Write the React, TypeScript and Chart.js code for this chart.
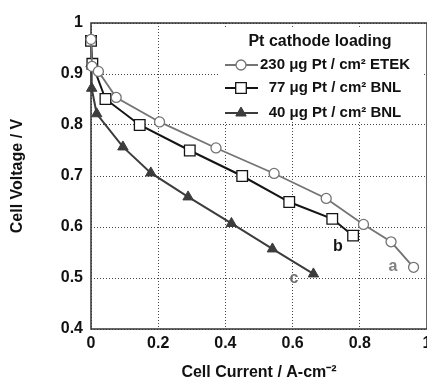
import React, { useEffect, useRef } from "react";
import { Chart, registerables } from "chart.js";

Chart.register(...registerables);

const currentA = [0, 0.003, 0.022, 0.075, 0.204, 0.372, 0.545, 0.70, 0.811, 0.893, 0.96];
const voltageA = [0.968, 0.915, 0.905, 0.854, 0.806, 0.755, 0.705, 0.656, 0.605, 0.571, 0.521];

const currentB = [0, 0.004, 0.043, 0.145, 0.294, 0.45, 0.59, 0.718, 0.78];
const voltageB = [0.965, 0.92, 0.851, 0.80, 0.75, 0.70, 0.649, 0.616, 0.583];

const currentC = [0, 0.002, 0.017, 0.095, 0.178, 0.289, 0.418, 0.54, 0.662];
const voltageC = [0.92, 0.872, 0.822, 0.757, 0.706, 0.659, 0.607, 0.557, 0.508];

const seriesLabels = ["230 \u03bcg Pt / cm\u00b2 ETEK", "77 \u03bcg Pt / cm\u00b2 BNL", "40 \u03bcg Pt / cm\u00b2 BNL"];
const legendTitle = "Pt cathode loading";
const curveTags = ["a", "b", "c"];
const tagX = [0.899, 0.735, 0.604];
const tagY = [0.522, 0.561, 0.498];

const xTitle = "Cell Current / A-cm\u207b\u00b2";
const yTitle = "Cell Voltage / V";

const FONT = '"Liberation Sans", Arial, Helvetica, sans-serif';
const colA = "#747474";
const colB = "#141414";
const colC = "#3c3c3c";
const tagColors = ["#808080", "#141414", "#707070"];

const toPts = (xs: number[], ys: number[]) => xs.map((x, i) => ({ x, y: ys[i] }));

const overlayPlugin = {
  id: "overlay",
  beforeDatasetsDraw(chart: any) {
    const { ctx, chartArea } = chart;
    ctx.save();
    ctx.strokeStyle = "#333";
    ctx.lineWidth = 1.5;
    ctx.strokeRect(chartArea.left, chartArea.top, chartArea.right - chartArea.left, chartArea.bottom - chartArea.top);
    ctx.restore();
  },
  afterDatasetsDraw(chart: any) {
    const { ctx, chartArea, scales } = chart;
    const L = chartArea.left;
    const T = chartArea.top;
    ctx.save();
    // legend box
    ctx.fillStyle = "#ffffff";
    ctx.fillRect(L + 127, T + 4, 206, 95);
    ctx.fillStyle = "#111";
    ctx.font = "bold 16px " + FONT;
    ctx.textAlign = "center";
    ctx.textBaseline = "middle";
    ctx.fillText(legendTitle, L + 229, T + 19);
    const rows = [T + 42, T + 65, T + 90];
    const ds = chart.data.datasets;
    rows.forEach((y, i) => {
      const d = ds[i];
      ctx.strokeStyle = d.borderColor;
      ctx.lineWidth = d.borderWidth;
      ctx.beginPath();
      ctx.moveTo(L + 134, y);
      ctx.lineTo(L + 167, y);
      ctx.stroke();
      ctx.fillStyle = d.pointBackgroundColor;
      ctx.strokeStyle = d.pointBorderColor;
      ctx.lineWidth = d.pointBorderWidth;
      ctx.beginPath();
      if (d.pointStyle === "circle") {
        ctx.arc(L + 150, y, d.pointRadius, 0, Math.PI * 2);
        ctx.fill();
        ctx.stroke();
      } else if (d.pointStyle === "rect") {
        const s = d.pointRadius * Math.SQRT1_2;
        ctx.rect(L + 150 - s, y - s, 2 * s, 2 * s);
        ctx.fill();
        ctx.stroke();
      } else {
        const r = d.pointRadius;
        ctx.moveTo(L + 150, y - r);
        ctx.lineTo(L + 150 + r * 0.87, y + r * 0.5);
        ctx.lineTo(L + 150 - r * 0.87, y + r * 0.5);
        ctx.closePath();
        ctx.fill();
        ctx.stroke();
      }
      ctx.fillStyle = "#111";
      ctx.font = "bold 15px " + FONT;
      ctx.textAlign = "center";
      ctx.fillText(seriesLabels[i], L + 244, y);
    });
    // curve tags
    ctx.font = "bold 16px " + FONT;
    curveTags.forEach((t, i) => {
      ctx.fillStyle = tagColors[i];
      ctx.fillText(t, scales.x.getPixelForValue(tagX[i]), scales.y.getPixelForValue(tagY[i]));
    });
    ctx.restore();
  },
};

export default function App() {
  const ref = useRef<HTMLCanvasElement | null>(null);
  useEffect(() => {
    if (!ref.current) return;
    Chart.defaults.font.family = FONT;
    const chart = new Chart(ref.current, {
      type: "line",
      data: {
        datasets: [
          {
            label: seriesLabels[0],
            data: toPts(currentA, voltageA),
            borderColor: colA,
            borderWidth: 1.8,
            pointStyle: "circle",
            pointRadius: 5,
            pointBackgroundColor: "#ffffff",
            pointBorderColor: colA,
            pointBorderWidth: 1.3,
            tension: 0,
            clip: false,
          },
          {
            label: seriesLabels[1],
            data: toPts(currentB, voltageB),
            borderColor: colB,
            borderWidth: 2,
            pointStyle: "rect",
            pointRadius: 7.5,
            pointBackgroundColor: "#ffffff",
            pointBorderColor: colB,
            pointBorderWidth: 1.3,
            tension: 0,
            clip: false,
          },
          {
            label: seriesLabels[2],
            data: toPts(currentC, voltageC),
            borderColor: colC,
            borderWidth: 2,
            pointStyle: "triangle",
            pointRadius: 6,
            pointBackgroundColor: colC,
            pointBorderColor: colC,
            pointBorderWidth: 1,
            tension: 0,
            clip: false,
          },
        ],
      },
      options: {
        animation: false,
        responsive: false,
        layout: { padding: { left: 0, top: 23, right: 33, bottom: 0 } },
        plugins: { legend: { display: false }, tooltip: { enabled: false } },
        scales: {
          x: {
            type: "linear",
            min: 0,
            max: 1,
            afterFit: (s: any) => {
              s.height = 53;
            },
            ticks: {
              stepSize: 0.2,
              color: "#111",
              padding: 5,
              font: { size: 16, weight: "bold" },
              callback: (v: any) => String(Number(Number(v).toFixed(1))),
            },
            grid: { color: "#444", lineWidth: 1, drawTicks: false },
            border: { display: false, dash: [1, 2] },
            title: {
              display: true,
              text: xTitle,
              color: "#111",
              font: { size: 16, weight: "bold" },
              padding: { top: 0, bottom: 0 },
            },
          },
          y: {
            type: "linear",
            min: 0.4,
            max: 1,
            afterFit: (s: any) => {
              s.width = 91;
            },
            ticks: {
              stepSize: 0.1,
              color: "#111",
              padding: 8,
              font: { size: 16, weight: "bold" },
              callback: (v: any) => String(Number(Number(v).toFixed(1))),
            },
            grid: { color: "#444", lineWidth: 1, drawTicks: false },
            border: { display: false, dash: [1, 2] },
            title: {
              display: true,
              text: yTitle,
              color: "#111",
              font: { size: 16, weight: "bold" },
              padding: { top: 8, bottom: 0 },
            },
          },
        },
      },
      plugins: [overlayPlugin],
    });
    return () => chart.destroy();
  }, []);
  return (
    <div style={{ position: "fixed", left: 0, top: 0, width: 427, height: 382, overflow: "hidden", background: "#fff" }}>
      <canvas ref={ref} width={460} height={382} style={{ display: "block" }} />
    </div>
  );
}
